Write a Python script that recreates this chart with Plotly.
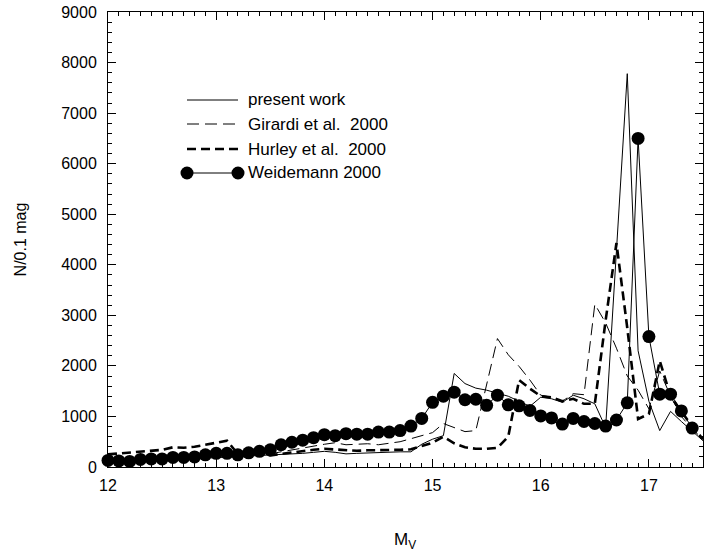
import plotly.graph_objects as go

# ---- data -------------------------------------------------------------
mv = [round(12.0 + 0.1 * i, 1) for i in range(56)]          # 12.0 .. 17.5
mv_w = mv[:55]                                               # 12.0 .. 17.4

present_work = [80, 90, 100, 110, 120, 130, 140, 150, 160, 170,
                190, 200, 200, 210, 220, 230, 240, 250, 270, 290,
                310, 290, 260, 270, 280, 280, 290, 300, 300, 450,
                550, 620, 1850, 1650, 1560, 1520, 1460, 1400, 1300, 1200,
                1380, 1350, 1280, 1420, 1350, 1250, 780, 4300, 7780, 2300,
                1300, 720, 1100, 900, 700, 520]

girardi = [120, 130, 140, 150, 160, 170, 180, 190, 200, 220,
           230, 240, 230, 240, 250, 260, 300, 340, 380, 420,
           450, 480, 440, 450, 460, 440, 470, 500, 560, 620,
           680, 860, 780, 700, 720, 1620, 2540, 2220, 1990, 1720,
           1420, 1380, 1300, 1450, 1430, 3220, 2850, 2350, 1800, 1520,
           1150, 1900, 1400, 1000, 750, 550]

hurley = [250, 270, 290, 300, 320, 340, 390, 380, 400, 440,
          480, 520, 260, 250, 240, 230, 260, 290, 320, 340,
          360, 350, 330, 320, 330, 330, 340, 340, 350, 420,
          480, 600, 470, 390, 360, 360, 380, 600, 1720, 1550,
          1400, 1380, 1300, 1350, 1250, 1250, 2900, 4430, 2750, 950,
          1050, 2100, 1400, 1100, 800, 550]

weidemann = [130, 120, 110, 150, 160, 160, 190, 190, 200, 240,
             270, 270, 240, 280, 310, 340, 440, 490, 530, 580,
             640, 620, 660, 650, 650, 690, 690, 720, 810, 960,
             1280, 1400, 1480, 1330, 1340, 1220, 1420, 1230, 1210, 1120,
             1010, 970, 850, 960, 900, 860, 810, 930, 1270, 6500,
             2580, 1440, 1440, 1110, 770]

x_ticks = [12, 13, 14, 15, 16, 17]
y_ticks = [0, 1000, 2000, 3000, 4000, 5000, 6000, 7000, 8000, 9000]

legend_names = ["present work", "Girardi et al.&nbsp; 2000",
                "Hurley et al.&nbsp; 2000", "Weidemann 2000"]

# ---- figure -----------------------------------------------------------
FONT = "Liberation Sans, Arial, Helvetica, sans-serif"
fig = go.Figure()

fig.add_trace(go.Scatter(x=mv, y=present_work, mode="lines",
                         line=dict(color="black", width=1),
                         showlegend=False))
fig.add_trace(go.Scatter(x=mv, y=girardi, mode="lines",
                         line=dict(color="black", width=1, dash="12px,6px"),
                         showlegend=False))
fig.add_trace(go.Scatter(x=mv, y=hurley, mode="lines",
                         line=dict(color="black", width=2.6, dash="9px,5px"),
                         showlegend=False))
fig.add_trace(go.Scatter(x=mv_w, y=weidemann, mode="lines+markers",
                         line=dict(color="black", width=1),
                         marker=dict(color="black", size=13),
                         cliponaxis=False, showlegend=False))

# ---- hand-made legend (paper coordinates) ------------------------------
L, R, T, B = 108, 703, 12, 467
W, H = 705, 554
def px(x):
    return (x - L) / (R - L)
def py(y):
    return (B - y) / (B - T)

rows_y = [100, 124, 149, 173]
x0, x1, xt = 187, 238, 246
styles = [dict(width=1, dash="solid"),
          dict(width=1, dash="12px,6px"),
          dict(width=2.6, dash="9px,5px"),
          dict(width=1, dash="solid")]
shapes = []
annotations = []
for name, yy, st in zip(legend_names, rows_y, styles):
    shapes.append(dict(type="line", xref="paper", yref="paper",
                       x0=px(x0), x1=px(x1), y0=py(yy), y1=py(yy),
                       line=dict(color="black", **st)))
    annotations.append(dict(x=px(xt), y=py(yy), xref="paper", yref="paper",
                            text=name, showarrow=False, xanchor="left",
                            yanchor="middle",
                            font=dict(family=FONT, size=17, color="black")))
r = 6.5
for cx in (x0, x1):
    shapes.append(dict(type="circle", xref="paper", yref="paper",
                       x0=px(cx - r), x1=px(cx + r),
                       y0=py(rows_y[3] + r), y1=py(rows_y[3] - r),
                       fillcolor="black", line=dict(color="black", width=0)))

annotations.append(dict(x=px(405), y=py(541), xref="paper", yref="paper",
                        text="M<sub>V</sub>", showarrow=False,
                        xanchor="center", yanchor="middle",
                        font=dict(family=FONT, size=17, color="black")))

fig.update_layout(
    width=W, height=H,
    margin=dict(l=L, r=W - R, t=T, b=H - B),
    paper_bgcolor="white", plot_bgcolor="white",
    font=dict(family=FONT, size=16, color="black"),
    shapes=shapes, annotations=annotations,
    xaxis=dict(range=[12, 17.5], tickvals=x_ticks,
               ticktext=[str(v) for v in x_ticks],
               showgrid=False, zeroline=False,
               showline=True, linecolor="black", linewidth=1, mirror="ticks",
               ticks="inside", ticklen=8, tickwidth=1, tickcolor="black",
               ticklabelstandoff=4,
               minor=dict(dtick=0.1, ticks="inside", ticklen=4,
                          tickcolor="black", showgrid=False),
               tickfont=dict(family=FONT, size=16)),
    yaxis=dict(range=[0, 9000], tickvals=y_ticks,
               ticktext=[str(v) for v in y_ticks],
               showgrid=False, zeroline=False,
               showline=True, linecolor="black", linewidth=1, mirror="ticks",
               ticks="inside", ticklen=8, tickwidth=1, tickcolor="black",
               ticklabelstandoff=7,
               minor=dict(dtick=200, ticks="inside", ticklen=4,
                          tickcolor="black", showgrid=False),
               tickfont=dict(family=FONT, size=16),
               title=dict(text="N/0.1 mag", standoff=30,
                          font=dict(family=FONT, size=16))),
)

fig.write_html("out.html",
               config={"displayModeBar": False, "staticPlot": True},
               post_script="document.body.style.margin='0';"
                           "document.body.style.overflow='hidden';")
